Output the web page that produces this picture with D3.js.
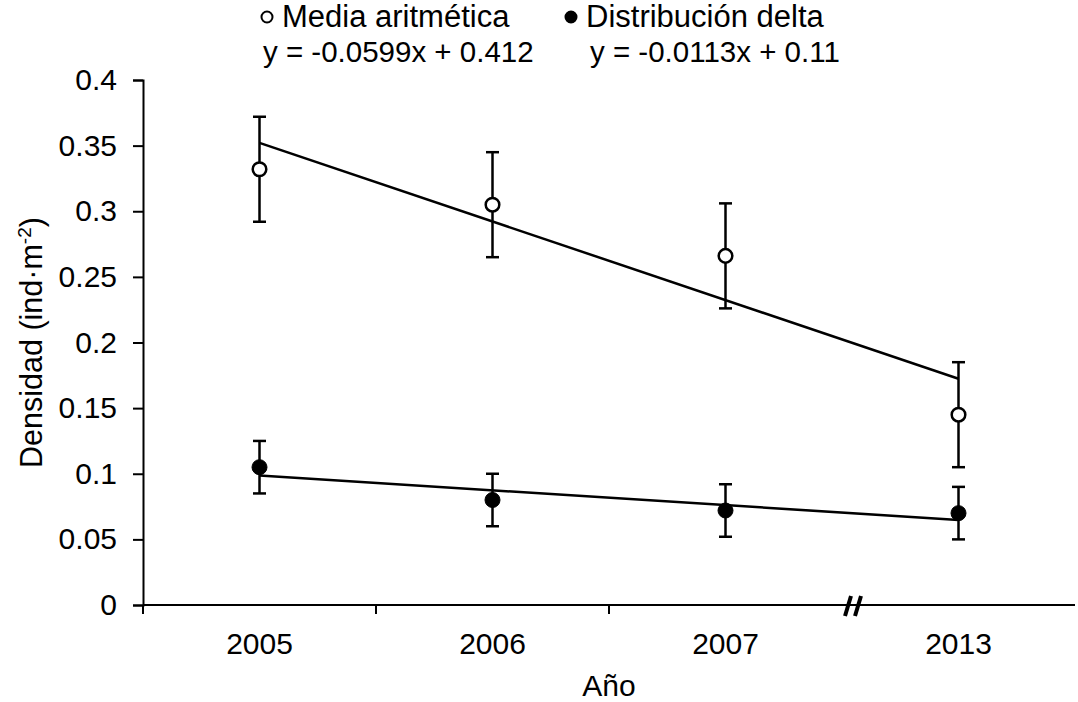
<!DOCTYPE html>
<html>
<head>
<meta charset="utf-8">
<script src="https://cdn.jsdelivr.net/npm/d3@7"></script>
<style>
  html, body { margin: 0; padding: 0; background: #fff; }
  svg { display: block; font-family: "Liberation Sans", Arial, sans-serif; }
</style>
</head>
<body>
<svg id="chart" width="1078" height="702"></svg>
<script>
// Yearly density estimates with error bars
const years = ["2005", "2006", "2007", "2013"];
const mediaValues = [0.332, 0.305, 0.266, 0.145];
const mediaErrors = [0.04, 0.04, 0.04, 0.04];
const deltaValues = [0.105, 0.080, 0.072, 0.070];
const deltaErrors = [0.02, 0.02, 0.02, 0.02];
// Linear trend coefficients (x = 1..4)
const mediaTrend = { slope: -0.0599, intercept: 0.412 };
const deltaTrend = { slope: -0.0113, intercept: 0.11 };
const yTicks = [0, 0.05, 0.1, 0.15, 0.2, 0.25, 0.3, 0.35, 0.4];
const seriesNames = ["Media aritmética", "Distribución delta"];
const equationLabels = ["y = -0.0599x + 0.412", "y = -0.0113x + 0.11"];

const svg = d3.select("#chart");
const margin = { left: 143, right: 3, top: 80, bottom: 97 };
const W = 1078, H = 702;

const x = d3.scaleBand().domain(years)
  .range([margin.left, W - margin.right]).padding(0);
const y = d3.scaleLinear().domain([0, 0.4]).range([H - margin.bottom, margin.top]);
const cx = d => x(d) + x.bandwidth() / 2;

// Y axis
const yAxis = d3.axisLeft(y).tickValues(yTicks).tickSize(10).tickPadding(16)
  .tickFormat(d => d3.format("")(+d.toFixed(2)));
const gy = svg.append("g").attr("transform", `translate(${margin.left},0)`).call(yAxis);
gy.select(".domain").attr("stroke", "#000").attr("stroke-width", 2);
gy.selectAll(".tick line").attr("stroke", "#000").attr("stroke-width", 2);
gy.selectAll(".tick text").attr("font-size", 30).attr("fill", "#000")
  .attr("font-family", "Liberation Sans, Arial, sans-serif");

// X axis: ticks at band boundaries, labels at band centres
const xBase = y(0);
const gx = svg.append("g");
gx.append("line")
  .attr("x1", margin.left).attr("x2", W - margin.right)
  .attr("y1", xBase).attr("y2", xBase)
  .attr("stroke", "#000").attr("stroke-width", 2);
const boundaries = years.slice(0, 3).map(d => x(d));
gx.selectAll("line.tk").data(boundaries).join("line").attr("class", "tk")
  .attr("x1", d => d).attr("x2", d => d)
  .attr("y1", xBase).attr("y2", xBase + 9)
  .attr("stroke", "#000").attr("stroke-width", 2);
gx.selectAll("text.lbl").data(years).join("text").attr("class", "lbl")
  .attr("x", d => cx(d)).attr("y", xBase + 49)
  .attr("text-anchor", "middle").attr("font-size", 30).text(d => d);

// Axis break between 2007 and 2013
const bx = x("2013") + 6;
[0, 10].forEach(off => {
  svg.append("line")
    .attr("x1", bx + off + 3).attr("y1", xBase - 9)
    .attr("x2", bx + off - 3).attr("y2", xBase + 11)
    .attr("stroke", "#000").attr("stroke-width", 4);
});

// Axis titles
svg.append("text").attr("x", (cx("2006") + cx("2007")) / 2)
  .attr("y", 696).attr("text-anchor", "middle").attr("font-size", 30).text("Año");
const yt = svg.append("text")
  .attr("transform", `translate(42,${(y(0) + y(0.4)) / 2}) rotate(-90)`)
  .attr("text-anchor", "middle").attr("font-size", 30.5);
yt.append("tspan").text("Densidad (ind·m");
yt.append("tspan").attr("font-size", 19).attr("dy", -11).text("-2");
yt.append("tspan").attr("dy", 11).text(")");

// Trend lines
function trendLine(t) {
  return [1, years.length].map(i => ({ x: cx(years[i - 1]), v: t.slope * i + t.intercept }));
}
const line = d3.line().x(d => d.x).y(d => y(d.v));
[mediaTrend, deltaTrend].forEach(t => {
  svg.append("path").datum(trendLine(t)).attr("d", line)
    .attr("fill", "none").attr("stroke", "#000").attr("stroke-width", 2.5);
});

// Error bars and markers
function drawSeries(vals, errs, filled) {
  const g = svg.append("g");
  years.forEach((yr, i) => {
    const px = cx(yr);
    g.append("line").attr("x1", px).attr("x2", px)
      .attr("y1", y(vals[i] - errs[i])).attr("y2", y(vals[i] + errs[i]))
      .attr("stroke", "#000").attr("stroke-width", 2.5);
    [vals[i] - errs[i], vals[i] + errs[i]].forEach(v => {
      g.append("line").attr("x1", px - 6.5).attr("x2", px + 6.5)
        .attr("y1", y(v)).attr("y2", y(v))
        .attr("stroke", "#000").attr("stroke-width", 2.5);
    });
    g.append("circle").attr("cx", px).attr("cy", y(vals[i]))
      .attr("r", filled ? 7.5 : 6.8)
      .attr("fill", filled ? "#000" : "#fff")
      .attr("stroke", "#000").attr("stroke-width", filled ? 1 : 2.5);
  });
}
drawSeries(mediaValues, mediaErrors, false);
drawSeries(deltaValues, deltaErrors, true);

// Legend with trend equations
const legendMarkerX = [267, 571];
const legendTextX = [282, 586];
const equationX = [263, 590];
seriesNames.forEach((name, i) => {
  svg.append("circle").attr("cx", legendMarkerX[i]).attr("cy", 17).attr("r", 5.5)
    .attr("fill", i === 1 ? "#000" : "#fff").attr("stroke", "#000").attr("stroke-width", 2);
  svg.append("text").attr("x", legendTextX[i]).attr("y", 27).attr("font-size", 31).text(name);
  svg.append("text").attr("x", equationX[i]).attr("y", 62)
    .attr("font-size", 29.5).text(equationLabels[i]);
});
</script>
</body>
</html>
